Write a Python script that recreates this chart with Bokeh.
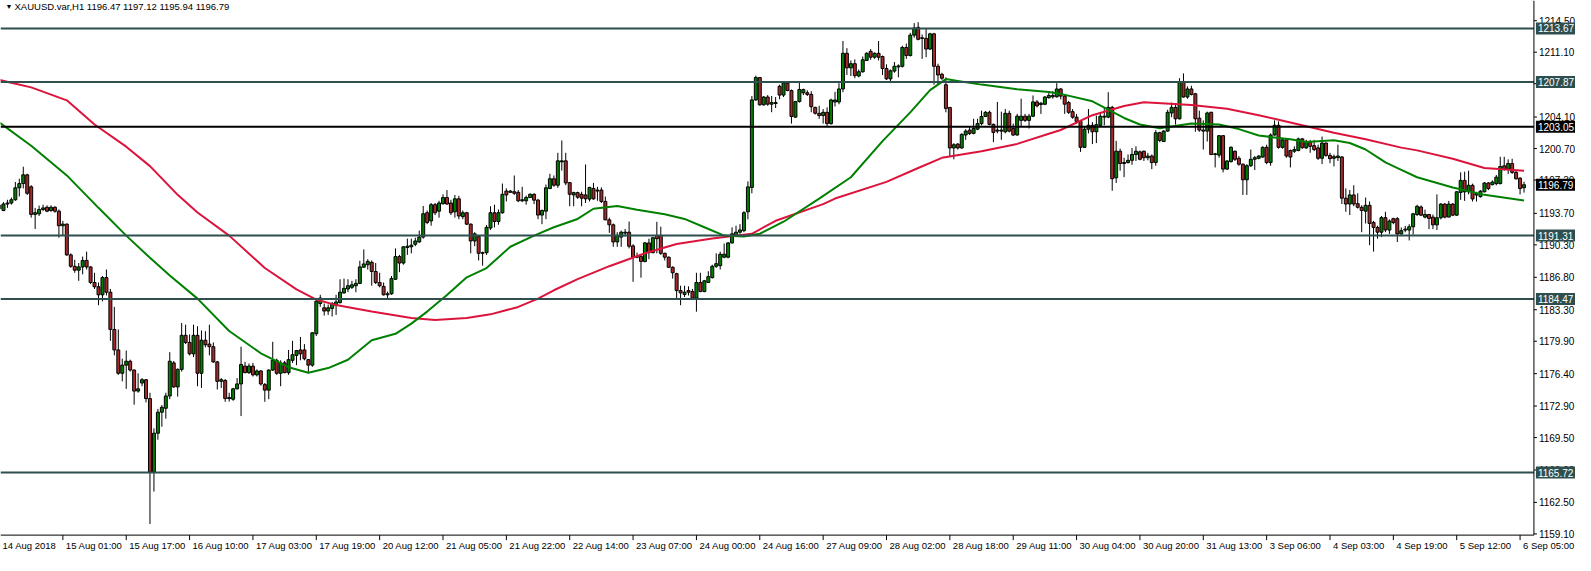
from bokeh.plotting import figure
from bokeh.models import ColumnDataSource, Range1d
from bokeh.core.properties import value
from bokeh.embed import file_html
from bokeh.resources import INLINE

title_text = "XAUUSD.var,H1  1196.47 1197.12 1195.94 1196.79"

# H1 bars, left to right (14 Aug 2018 -> 6 Sep 2018)
opens = [
    1194.60, 1194.01, 1194.71, 1194.82, 1195.17, 1196.46, 1196.92, 1197.86, 1196.57, 1193.59,
    1193.66, 1194.12, 1194.36, 1194.01, 1194.36, 1193.94, 1192.37, 1192.54, 1189.22, 1187.99,
    1187.57, 1187.92, 1188.62, 1187.92, 1186.24, 1185.78, 1184.91, 1186.77, 1185.19, 1181.17,
    1178.96, 1176.44, 1177.32, 1177.74, 1176.79, 1174.52, 1175.39, 1175.74, 1173.71, 1165.77,
    1169.97, 1172.24, 1172.66, 1173.99, 1177.56, 1174.97, 1176.86, 1180.54, 1179.77, 1178.54,
    1180.54, 1176.44, 1180.01, 1179.59, 1179.31, 1177.67, 1175.57, 1175.67, 1173.71, 1173.64,
    1174.76, 1175.29, 1177.21, 1176.51, 1177.21, 1176.27, 1176.69, 1175.22, 1174.62, 1176.79,
    1177.84, 1176.44, 1177.56, 1176.51, 1177.84, 1178.37, 1178.96, 1178.96, 1177.91, 1177.32,
    1180.71, 1183.97, 1183.51, 1183.16, 1183.44, 1183.79, 1184.07, 1185.12, 1185.54, 1185.72,
    1185.89, 1186.14, 1187.89, 1188.16, 1188.41, 1187.43, 1186.24, 1185.82, 1184.91, 1185.02,
    1186.59, 1189.04, 1188.34, 1190.02, 1190.09, 1190.37, 1190.62, 1191.14, 1193.77, 1192.89,
    1194.64, 1193.94, 1194.75, 1195.41, 1194.82, 1193.87, 1195.27, 1193.35, 1193.77, 1192.54,
    1190.72, 1191.21, 1189.39, 1189.46, 1192.12, 1193.77, 1192.82, 1193.77, 1196.11, 1195.97,
    1196.04, 1195.97, 1195.06, 1195.06, 1195.41, 1195.76, 1195.13, 1193.52, 1193.94, 1196.39,
    1197.44, 1196.74, 1199.26, 1199.37, 1197.02, 1195.69, 1195.94, 1195.76, 1195.69, 1195.24,
    1196.39, 1196.11, 1196.22, 1194.99, 1193.00, 1192.47, 1190.62, 1191.14, 1191.57, 1191.67,
    1190.19, 1188.97, 1189.04, 1188.51, 1190.51, 1189.46, 1191.32, 1191.32, 1189.39, 1188.97,
    1187.88, 1187.19, 1185.37, 1184.95, 1185.37, 1185.26, 1184.56, 1186.24, 1185.26, 1186.24,
    1186.77, 1187.99, 1188.06, 1188.97, 1188.97, 1190.51, 1191.21, 1191.67, 1191.84, 1193.87,
    1196.50, 1205.95, 1208.36, 1205.42, 1206.26, 1205.49, 1205.56, 1207.42, 1206.47, 1207.77,
    1206.96, 1204.09, 1205.77, 1206.72, 1206.72, 1206.54, 1205.14, 1204.50, 1204.26, 1204.61,
    1203.39, 1205.73, 1205.73, 1207.13, 1210.98, 1209.41, 1209.86, 1208.53, 1208.99, 1210.21,
    1211.19, 1210.56, 1210.98, 1210.63, 1209.34, 1208.22, 1209.06, 1209.51, 1209.58, 1211.61,
    1210.74, 1212.94, 1213.78, 1212.59, 1212.59, 1211.44, 1213.08, 1209.58, 1208.71, 1207.59,
    1205.14, 1200.76, 1201.18, 1200.76, 1202.16, 1202.69, 1202.34, 1202.79, 1203.39, 1204.16,
    1204.61, 1203.31, 1202.58, 1202.69, 1202.51, 1204.50, 1202.86, 1202.16, 1203.74, 1204.19,
    1203.74, 1204.19, 1205.73, 1205.45, 1205.48, 1206.19, 1206.43, 1206.29, 1207.13, 1206.36,
    1205.66, 1204.68, 1204.09, 1203.63, 1200.83, 1202.79, 1203.21, 1202.51, 1203.21, 1204.09,
    1204.09, 1205.14, 1197.54, 1200.41, 1199.08, 1199.19, 1199.43, 1200.06, 1200.34, 1200.41,
    1199.71, 1199.89, 1199.19, 1202.41, 1201.46, 1202.58, 1204.54, 1205.14, 1203.91, 1207.83,
    1206.26, 1207.13, 1206.61, 1203.98, 1202.69, 1202.58, 1204.61, 1200.06, 1199.99, 1202.09,
    1198.48, 1199.29, 1200.41, 1199.64, 1199.01, 1197.33, 1198.84, 1199.54, 1199.64, 1199.78,
    1200.83, 1199.19, 1202.16, 1203.21, 1200.83, 1201.64, 1200.48, 1200.41, 1200.48, 1201.74,
    1200.77, 1201.36, 1201.01, 1200.77, 1199.65, 1201.29, 1199.96, 1199.65, 1199.72, 1199.79,
    1195.34, 1194.71, 1195.69, 1194.75, 1194.36, 1193.94, 1194.57, 1192.72, 1192.19, 1191.67,
    1193.24, 1191.90, 1193.13, 1193.13, 1191.48, 1191.90, 1191.90, 1192.25, 1193.58, 1194.39,
    1193.30, 1193.58, 1193.30, 1192.46, 1193.23, 1194.70, 1193.30, 1194.70, 1193.51, 1195.96,
    1197.26, 1196.03, 1196.73, 1195.68, 1195.51, 1196.03, 1196.98, 1196.80, 1196.91, 1196.91,
    1198.83, 1198.48, 1199.08, 1198.13, 1197.50, 1196.47,
]
highs = [
    1195.30, 1194.92, 1195.17, 1195.41, 1197.09, 1197.44, 1198.74, 1197.97, 1196.74, 1194.29,
    1194.54, 1194.64, 1194.57, 1194.57, 1194.47, 1194.12, 1192.89, 1192.61, 1189.39, 1188.69,
    1188.34, 1189.04, 1189.57, 1187.99, 1187.29, 1186.24, 1186.94, 1187.64, 1185.54, 1183.61,
    1181.17, 1178.02, 1178.89, 1177.91, 1176.86, 1176.44, 1175.92, 1175.81, 1174.34, 1170.49,
    1172.59, 1173.01, 1174.34, 1178.72, 1177.77, 1176.97, 1181.87, 1181.69, 1180.64, 1181.69,
    1181.52, 1181.06, 1180.99, 1181.69, 1179.77, 1177.77, 1175.92, 1175.81, 1174.34, 1174.86,
    1175.92, 1179.31, 1177.67, 1177.49, 1177.56, 1176.86, 1176.79, 1175.39, 1176.86, 1179.84,
    1178.02, 1177.84, 1177.77, 1178.96, 1179.94, 1178.96, 1180.36, 1179.59, 1177.98, 1180.89,
    1184.49, 1184.91, 1183.97, 1183.86, 1184.14, 1184.91, 1186.59, 1186.66, 1186.59, 1186.42,
    1186.59, 1188.59, 1189.81, 1188.76, 1188.62, 1188.34, 1187.29, 1186.24, 1185.26, 1186.94,
    1189.92, 1189.22, 1190.16, 1190.97, 1190.97, 1191.07, 1191.84, 1194.50, 1194.01, 1194.82,
    1194.82, 1195.06, 1195.76, 1196.22, 1195.17, 1195.69, 1195.59, 1194.01, 1193.87, 1192.61,
    1191.67, 1191.28, 1189.57, 1192.44, 1194.47, 1194.64, 1194.12, 1196.92, 1196.39, 1196.22,
    1197.79, 1196.22, 1196.57, 1195.62, 1195.87, 1195.87, 1195.27, 1194.12, 1196.81, 1197.97,
    1197.79, 1200.24, 1201.57, 1200.24, 1197.09, 1196.04, 1196.04, 1196.04, 1198.98, 1196.57,
    1196.99, 1196.57, 1196.50, 1195.52, 1193.24, 1192.61, 1191.67, 1191.84, 1192.02, 1192.82,
    1190.37, 1189.46, 1189.21, 1190.62, 1190.97, 1191.14, 1192.79, 1192.26, 1189.46, 1189.04,
    1187.99, 1187.29, 1185.89, 1185.89, 1185.82, 1185.54, 1187.29, 1187.29, 1186.52, 1187.46,
    1188.16, 1189.39, 1189.56, 1190.44, 1190.62, 1192.19, 1192.37, 1192.54, 1193.94, 1197.16,
    1206.37, 1208.57, 1208.40, 1206.37, 1206.47, 1206.37, 1206.26, 1207.59, 1207.80, 1207.87,
    1207.07, 1205.84, 1207.77, 1207.17, 1206.99, 1206.89, 1205.21, 1205.31, 1204.96, 1205.14,
    1206.08, 1206.82, 1207.76, 1212.31, 1211.54, 1210.21, 1210.32, 1209.23, 1210.63, 1211.09,
    1211.44, 1211.09, 1212.31, 1210.74, 1209.79, 1209.23, 1210.04, 1209.79, 1211.79, 1212.03,
    1213.19, 1214.24, 1214.34, 1213.01, 1213.64, 1213.19, 1213.19, 1209.86, 1208.88, 1208.39,
    1205.18, 1201.28, 1201.28, 1202.34, 1202.79, 1203.04, 1203.91, 1203.91, 1204.79, 1204.75,
    1204.79, 1203.39, 1205.73, 1204.68, 1204.96, 1204.79, 1203.39, 1204.44, 1206.08, 1204.44,
    1204.44, 1206.43, 1205.94, 1205.73, 1206.36, 1206.89, 1206.89, 1207.76, 1207.24, 1206.54,
    1205.84, 1204.96, 1204.44, 1203.74, 1203.04, 1204.96, 1203.56, 1204.26, 1204.61, 1205.14,
    1206.78, 1205.31, 1201.53, 1200.69, 1199.71, 1200.06, 1200.76, 1200.94, 1200.48, 1200.48,
    1200.23, 1200.06, 1202.69, 1202.51, 1202.69, 1204.89, 1205.66, 1205.59, 1208.29, 1208.81,
    1207.41, 1207.48, 1206.71, 1204.79, 1203.74, 1204.68, 1204.68, 1200.23, 1202.16, 1202.16,
    1199.43, 1200.94, 1200.48, 1199.89, 1199.08, 1199.01, 1200.59, 1199.89, 1199.99, 1200.94,
    1201.11, 1202.34, 1203.74, 1203.63, 1201.81, 1201.81, 1200.59, 1200.94, 1201.88, 1201.85,
    1201.64, 1201.64, 1201.64, 1201.12, 1201.99, 1201.36, 1200.24, 1200.06, 1201.12, 1199.89,
    1196.39, 1196.22, 1196.74, 1195.87, 1194.57, 1195.41, 1194.99, 1192.89, 1192.37, 1193.42,
    1193.87, 1193.05, 1193.23, 1193.30, 1192.18, 1192.35, 1192.53, 1193.76, 1194.63, 1194.56,
    1194.11, 1193.65, 1193.58, 1195.75, 1194.81, 1194.81, 1195.05, 1194.81, 1196.10, 1198.13,
    1198.20, 1198.31, 1196.91, 1196.03, 1196.21, 1197.08, 1197.08, 1197.26, 1197.85, 1199.81,
    1199.81, 1199.53, 1199.60, 1198.31, 1197.61, 1197.12,
]
lows = [
    1193.90, 1193.94, 1194.29, 1194.64, 1195.06, 1195.52, 1196.39, 1195.69, 1193.24, 1192.02,
    1193.42, 1193.94, 1193.83, 1193.87, 1193.77, 1191.07, 1191.32, 1189.11, 1187.82, 1187.29,
    1186.42, 1187.12, 1187.64, 1186.07, 1185.54, 1183.79, 1184.21, 1184.84, 1179.94, 1178.37,
    1176.27, 1175.57, 1174.76, 1176.62, 1173.05, 1174.34, 1175.04, 1173.29, 1160.17, 1163.67,
    1169.27, 1170.67, 1171.54, 1173.64, 1174.86, 1173.92, 1176.62, 1179.59, 1178.37, 1178.19,
    1175.04, 1174.86, 1179.24, 1178.37, 1177.56, 1174.69, 1174.86, 1173.36, 1173.39, 1173.47,
    1174.69, 1171.82, 1176.44, 1176.37, 1176.09, 1176.09, 1175.11, 1173.36, 1173.64, 1176.69,
    1176.27, 1175.04, 1176.44, 1176.27, 1177.56, 1177.32, 1177.84, 1177.84, 1176.44, 1177.14,
    1180.47, 1183.62, 1182.67, 1182.74, 1182.57, 1182.74, 1183.97, 1185.02, 1185.19, 1185.54,
    1185.19, 1186.07, 1187.82, 1187.64, 1185.89, 1186.07, 1185.72, 1184.84, 1184.56, 1184.91,
    1186.52, 1187.36, 1188.16, 1189.22, 1189.39, 1190.16, 1190.51, 1190.97, 1192.54, 1192.37,
    1193.52, 1193.24, 1194.64, 1194.64, 1193.52, 1193.24, 1193.07, 1193.07, 1192.44, 1189.39,
    1190.16, 1188.62, 1188.06, 1189.22, 1191.91, 1192.19, 1192.47, 1193.66, 1194.99, 1195.94,
    1195.69, 1194.92, 1194.92, 1194.64, 1195.34, 1194.71, 1193.07, 1192.54, 1193.07, 1196.32,
    1196.57, 1196.46, 1198.32, 1196.74, 1194.47, 1194.47, 1195.27, 1194.47, 1194.82, 1194.99,
    1195.17, 1195.06, 1194.82, 1192.96, 1191.60, 1190.09, 1190.09, 1190.09, 1191.21, 1189.92,
    1186.31, 1188.86, 1186.76, 1188.41, 1188.76, 1189.39, 1189.39, 1189.21, 1188.62, 1187.81,
    1186.66, 1184.49, 1183.79, 1184.67, 1184.84, 1184.50, 1183.09, 1185.19, 1185.19, 1186.20,
    1186.66, 1187.81, 1187.64, 1188.86, 1188.86, 1190.44, 1191.14, 1191.49, 1191.67, 1193.06,
    1195.87, 1205.84, 1205.32, 1205.32, 1205.32, 1204.62, 1205.07, 1206.02, 1206.26, 1206.89,
    1203.39, 1204.02, 1205.66, 1206.47, 1206.37, 1204.62, 1204.37, 1203.91, 1203.39, 1203.14,
    1203.28, 1205.24, 1205.48, 1206.78, 1208.64, 1208.53, 1208.29, 1208.39, 1208.88, 1210.14,
    1210.28, 1210.38, 1210.21, 1208.64, 1208.11, 1207.94, 1208.88, 1208.39, 1209.44, 1210.38,
    1210.63, 1212.66, 1212.38, 1210.38, 1210.56, 1211.33, 1207.59, 1207.59, 1208.11, 1204.61,
    1199.89, 1199.54, 1200.59, 1200.69, 1201.64, 1202.16, 1202.23, 1202.69, 1203.21, 1204.09,
    1203.21, 1201.39, 1202.34, 1201.64, 1202.34, 1202.44, 1202.06, 1202.09, 1203.04, 1203.56,
    1202.86, 1204.09, 1205.14, 1204.44, 1205.38, 1206.08, 1206.08, 1206.19, 1206.01, 1204.44,
    1204.44, 1203.91, 1203.39, 1200.34, 1200.76, 1202.34, 1201.18, 1201.29, 1203.14, 1203.21,
    1203.98, 1196.14, 1196.98, 1198.31, 1197.61, 1199.08, 1198.94, 1199.36, 1199.43, 1199.36,
    1199.43, 1198.48, 1198.84, 1201.39, 1201.39, 1202.51, 1204.09, 1203.28, 1203.84, 1206.19,
    1206.08, 1206.43, 1202.51, 1202.51, 1200.59, 1201.46, 1199.99, 1198.66, 1199.71, 1198.13,
    1198.38, 1199.19, 1199.36, 1198.84, 1195.69, 1195.69, 1198.73, 1198.38, 1199.54, 1199.71,
    1199.01, 1198.84, 1202.09, 1200.69, 1200.69, 1199.71, 1198.66, 1200.23, 1200.41, 1200.66,
    1200.66, 1200.24, 1200.42, 1199.47, 1199.02, 1199.82, 1199.12, 1198.77, 1199.36, 1194.71,
    1193.87, 1193.52, 1194.47, 1194.22, 1191.67, 1192.61, 1190.27, 1189.57, 1190.97, 1191.14,
    1191.67, 1191.48, 1192.53, 1190.61, 1191.41, 1191.66, 1190.78, 1191.41, 1193.41, 1193.41,
    1193.16, 1192.00, 1192.00, 1191.90, 1193.05, 1193.16, 1193.30, 1193.41, 1193.41, 1195.16,
    1195.05, 1195.75, 1194.98, 1194.98, 1195.40, 1195.96, 1196.21, 1196.73, 1196.73, 1196.84,
    1198.31, 1197.96, 1197.96, 1197.36, 1195.75, 1195.94,
]
closes = [
    1194.20, 1194.71, 1194.82, 1195.17, 1196.46, 1196.92, 1197.86, 1195.87, 1193.59, 1193.77,
    1194.12, 1194.29, 1193.94, 1194.36, 1193.94, 1192.37, 1192.54, 1189.22, 1187.99, 1187.57,
    1187.92, 1188.62, 1187.92, 1186.24, 1185.78, 1184.91, 1186.77, 1185.19, 1181.17, 1178.96,
    1176.44, 1177.32, 1177.74, 1176.79, 1174.52, 1174.76, 1175.74, 1173.71, 1165.77, 1169.97,
    1172.24, 1172.77, 1173.99, 1177.74, 1174.97, 1176.86, 1180.54, 1179.77, 1178.54, 1180.54,
    1176.44, 1180.01, 1179.52, 1179.31, 1177.67, 1175.57, 1175.74, 1173.71, 1173.82, 1174.76,
    1175.29, 1177.39, 1176.51, 1177.21, 1176.27, 1176.69, 1175.29, 1174.62, 1176.79, 1177.84,
    1176.44, 1177.56, 1176.51, 1177.91, 1178.44, 1178.89, 1178.54, 1178.01, 1177.32, 1180.81,
    1184.21, 1184.56, 1183.16, 1183.51, 1183.97, 1184.14, 1185.19, 1185.61, 1185.89, 1185.99,
    1186.14, 1187.92, 1188.24, 1188.52, 1187.43, 1186.24, 1185.89, 1184.91, 1185.02, 1186.66,
    1189.04, 1188.34, 1190.09, 1190.16, 1190.27, 1190.72, 1191.14, 1193.66, 1192.72, 1194.64,
    1193.77, 1194.82, 1195.41, 1194.71, 1193.77, 1195.27, 1193.42, 1193.77, 1192.54, 1190.72,
    1191.49, 1189.39, 1189.46, 1192.19, 1193.77, 1192.82, 1193.77, 1195.76, 1195.69, 1196.11,
    1195.87, 1195.06, 1195.17, 1195.41, 1195.76, 1195.13, 1193.52, 1194.01, 1196.46, 1197.44,
    1196.74, 1199.37, 1199.37, 1196.99, 1195.76, 1195.94, 1195.45, 1195.34, 1195.27, 1196.50,
    1195.27, 1196.22, 1194.99, 1193.00, 1192.47, 1190.62, 1191.32, 1191.67, 1191.67, 1190.16,
    1188.97, 1189.04, 1188.51, 1190.51, 1189.46, 1191.07, 1190.97, 1189.39, 1188.97, 1187.88,
    1187.29, 1185.37, 1185.12, 1185.19, 1185.19, 1184.56, 1186.24, 1185.26, 1186.42, 1186.87,
    1187.99, 1188.27, 1189.29, 1189.29, 1190.51, 1191.49, 1191.67, 1191.91, 1193.77, 1196.56,
    1205.95, 1208.36, 1205.42, 1206.26, 1205.49, 1205.66, 1205.66, 1206.47, 1207.77, 1206.96,
    1204.16, 1205.77, 1207.07, 1207.07, 1206.54, 1205.21, 1204.51, 1204.26, 1204.61, 1203.39,
    1205.94, 1205.94, 1207.13, 1210.98, 1209.41, 1209.86, 1208.57, 1208.99, 1210.28, 1210.98,
    1210.56, 1210.98, 1210.56, 1209.34, 1208.22, 1209.09, 1209.58, 1209.62, 1211.61, 1210.74,
    1212.94, 1213.71, 1212.49, 1212.66, 1211.44, 1213.08, 1209.58, 1208.64, 1208.29, 1205.03,
    1200.76, 1201.11, 1200.76, 1202.23, 1202.58, 1202.34, 1202.86, 1203.39, 1204.16, 1204.61,
    1203.31, 1202.44, 1202.69, 1202.58, 1204.50, 1202.58, 1202.16, 1204.19, 1204.19, 1203.74,
    1204.19, 1205.73, 1205.31, 1205.59, 1206.26, 1206.43, 1206.29, 1207.13, 1206.36, 1205.49,
    1204.61, 1204.09, 1203.63, 1200.83, 1202.79, 1203.21, 1202.51, 1203.28, 1204.19, 1204.19,
    1205.14, 1197.44, 1200.41, 1199.08, 1199.19, 1199.43, 1200.06, 1200.41, 1199.54, 1199.71,
    1199.89, 1199.19, 1202.41, 1201.57, 1202.58, 1204.61, 1205.14, 1203.91, 1207.83, 1206.26,
    1207.13, 1206.54, 1203.91, 1202.69, 1202.58, 1204.54, 1200.06, 1200.13, 1202.09, 1198.48,
    1199.36, 1200.83, 1199.54, 1199.01, 1197.33, 1198.84, 1199.54, 1199.71, 1199.89, 1200.83,
    1199.19, 1202.16, 1203.21, 1200.83, 1201.64, 1199.89, 1199.78, 1200.59, 1201.74, 1200.80,
    1201.47, 1200.94, 1200.59, 1199.65, 1201.29, 1199.96, 1199.61, 1199.82, 1199.89, 1195.34,
    1194.71, 1195.69, 1194.71, 1194.36, 1194.01, 1194.57, 1192.61, 1192.19, 1191.67, 1193.24,
    1191.91, 1192.88, 1192.71, 1191.48, 1191.83, 1192.00, 1192.25, 1193.65, 1194.46, 1193.51,
    1193.58, 1193.16, 1192.46, 1193.23, 1194.70, 1193.30, 1194.70, 1193.51, 1196.03, 1197.26,
    1196.03, 1196.73, 1195.26, 1195.86, 1196.10, 1196.98, 1196.38, 1197.08, 1197.61, 1198.76,
    1198.48, 1199.08, 1198.13, 1197.43, 1196.38, 1196.79,
]

# moving averages, read at sample bars
ma_slow_bar = [0, 8, 17, 24, 32, 38, 45, 50, 58, 67, 75, 80, 85, 94, 104, 110, 118, 124,
               131, 136, 140, 146, 154, 163, 171, 180, 190, 196, 208, 211, 224, 232, 238,
               248, 257, 265, 268, 276, 284, 289, 301, 310, 318, 326, 337, 345, 354, 358,
               367, 375, 385]
ma_slow = [1208.1, 1207.3, 1205.9, 1203.3, 1200.9, 1198.8, 1195.7, 1193.8, 1191.3, 1187.8,
           1185.5, 1184.4, 1183.8, 1183.1, 1182.4, 1182.2, 1182.4, 1182.8, 1183.6, 1184.5,
           1185.4, 1186.6, 1188.0, 1189.4, 1190.4, 1191.0, 1191.5, 1192.9, 1194.7, 1195.3,
           1197.1, 1198.6, 1199.7, 1200.4, 1201.2, 1202.3, 1202.7, 1204.3, 1205.3, 1205.7,
           1205.4, 1205.0, 1204.3, 1203.5, 1202.4, 1201.7, 1200.8, 1200.5, 1199.6, 1198.6,
           1198.3]
ma_fast_bar = [0, 8, 17, 25, 32, 38, 43, 50, 58, 66, 73, 78, 83, 88, 94, 100, 104, 108, 113,
               118, 123, 129, 135, 140, 146, 150, 156, 161, 168, 173, 178, 183, 188, 192, 198,
               207, 215, 223, 230, 235, 239, 242, 248, 257, 265, 268, 276, 280, 284, 288, 293,
               301, 308, 313, 318, 326, 330, 337, 341, 345, 350, 354, 358, 367, 375, 385]
ma_fast = [1203.5, 1201.0, 1197.8, 1194.3, 1191.3, 1188.9, 1187.0, 1184.5, 1181.0, 1178.6,
           1177.1, 1176.5, 1177.0, 1177.9, 1180.0, 1180.7, 1181.8, 1183.1, 1184.9, 1186.8,
           1187.8, 1190.1, 1191.3, 1192.2, 1193.1, 1194.2, 1194.5, 1194.1, 1193.6, 1193.1,
           1192.2, 1191.3, 1191.2, 1191.5, 1192.8, 1195.3, 1197.6, 1201.5, 1204.6, 1207.0,
           1208.2, 1208.0, 1207.6, 1207.1, 1206.8, 1206.6, 1205.8, 1204.9, 1204.0, 1203.3,
           1202.9, 1203.4, 1203.3, 1202.8, 1202.1, 1201.7, 1201.4, 1201.6, 1201.3, 1200.6,
           1199.2, 1198.4, 1197.6, 1196.5, 1195.7, 1195.1]

levels = [1213.67, 1207.87, 1203.05, 1191.31, 1184.47, 1165.72]
level_colors = ["#2F4F4F", "#2F4F4F", "black", "#2F4F4F", "#2F4F4F", "#2F4F4F"]

price_ticks = [1214.50, 1211.10, 1207.70, 1204.10, 1200.70, 1197.30, 1193.70, 1190.30,
               1186.80, 1183.30, 1179.90, 1176.40, 1172.90, 1169.50, 1166.00, 1162.50,
               1159.10]

date_labels = ["14 Aug 2018", "15 Aug 01:00", "15 Aug 17:00", "16 Aug 10:00",
               "17 Aug 03:00", "17 Aug 19:00", "20 Aug 12:00", "21 Aug 05:00",
               "21 Aug 22:00", "22 Aug 14:00", "23 Aug 07:00", "24 Aug 00:00",
               "24 Aug 16:00", "27 Aug 09:00", "28 Aug 02:00", "28 Aug 18:00",
               "29 Aug 11:00", "30 Aug 04:00", "30 Aug 20:00", "31 Aug 13:00",
               "3 Sep 06:00", "4 Sep 03:00", "4 Sep 19:00", "5 Sep 12:00", "6 Sep 05:00"]
bars_per_label = 16

FONT = value("Liberation Sans")
BULL = "#008000"
BEAR = "#A52A2A"

W, H = 1575, 555
n = len(closes)
# chart window in bar / price units; the price scale and time scale live
# inside the canvas like in the terminal
x_lo, x_hi = 0.25, 398.0
y_lo, y_hi = 1156.77, 1216.68
chart_right = n + 1.5          # price scale line
chart_bottom = 1158.97         # time scale line
px_x = W / (x_hi - x_lo)       # pixels per bar
px_y = H / (y_hi - y_lo)       # pixels per price unit

src = ColumnDataSource(dict(
    x=list(range(n)), high=highs, low=lows,
    top=[max(o, c) for o, c in zip(opens, closes)],
    bottom=[min(o, c) for o, c in zip(opens, closes)],
    color=[BULL if c >= o else BEAR for o, c in zip(opens, closes)],
))

p = figure(width=W, height=H, output_backend="svg", toolbar_location=None,
           x_range=Range1d(x_lo, x_hi), y_range=Range1d(y_lo, y_hi),
           x_axis_location=None, y_axis_location=None, min_border=0)
p.grid.visible = False
p.outline_line_color = None
p.background_fill_color = "white"
p.border_fill_color = "white"

# candles
p.segment(x0="x", y0="low", x1="x", y1="high", source=src, line_color="black",
          line_width=1)
p.vbar(x="x", width=0.75, top="top", bottom="bottom", source=src,
       fill_color="color", line_color="black", line_width=1)

# moving averages
p.line(ma_slow_bar, ma_slow, line_color="#DC143C", line_width=2)
p.line(ma_fast_bar, ma_fast, line_color="#008000", line_width=2)

# horizontal levels
p.segment(x0=[x_lo] * len(levels), y0=levels, x1=[chart_right] * len(levels), y1=levels,
          line_color=level_colors, line_width=2)

# scale lines
p.segment(x0=[chart_right, x_lo], y0=[chart_bottom, chart_bottom],
          x1=[chart_right, chart_right], y1=[y_hi, chart_bottom],
          line_color="black", line_width=1)

# price scale ticks and labels
p.segment(x0=[chart_right] * len(price_ticks), y0=price_ticks,
          x1=[chart_right + 3 / px_x] * len(price_ticks), y1=price_ticks,
          line_color="black", line_width=1)
p.text(x=[chart_right] * len(price_ticks), y=price_ticks,
       text=[f"{t:.2f}" for t in price_ticks], x_offset=5,
       text_font=FONT, text_font_size="10px", text_color="black",
       text_align="left", text_baseline="middle")

# time scale ticks and labels
tick_bars = list(range(0, n, bars_per_label))[:len(date_labels)]
p.segment(x0=tick_bars, y0=[chart_bottom] * len(tick_bars), x1=tick_bars,
          y1=[chart_bottom - 5 / px_y] * len(tick_bars), line_color="black", line_width=1)
p.text(x=tick_bars, y=[chart_bottom] * len(tick_bars), text=date_labels,
       x_offset=3, y_offset=5, text_font=FONT, text_font_size="9.5px",
       text_color="black", text_align="left", text_baseline="top")

# price tags for levels and last close
tag_y = levels + [closes[-1]]
tag_colors = level_colors + ["black"]
p.rect(x=[chart_right + 22 / px_x] * len(tag_y), y=tag_y, width=40, height=12,
       width_units="screen", height_units="screen", fill_color=tag_colors,
       line_color=None)
p.text(x=[chart_right] * len(tag_y), y=tag_y, text=[f"{v:.2f}" for v in tag_y],
       x_offset=4, text_font=FONT, text_font_size="10px", text_color="white",
       text_align="left", text_baseline="middle")

# symbol header
p.text(x=[x_lo], y=[y_hi], text=["\u25bc"], x_offset=5, y_offset=2, text_font=FONT,
       text_font_size="7px", text_color="black", text_baseline="top")
p.text(x=[x_lo], y=[y_hi], text=[title_text], x_offset=14, y_offset=0, text_font=FONT,
       text_font_size="9.5px", text_color="black", text_baseline="top")

open("out.html", "w").write(file_html(p, INLINE))
